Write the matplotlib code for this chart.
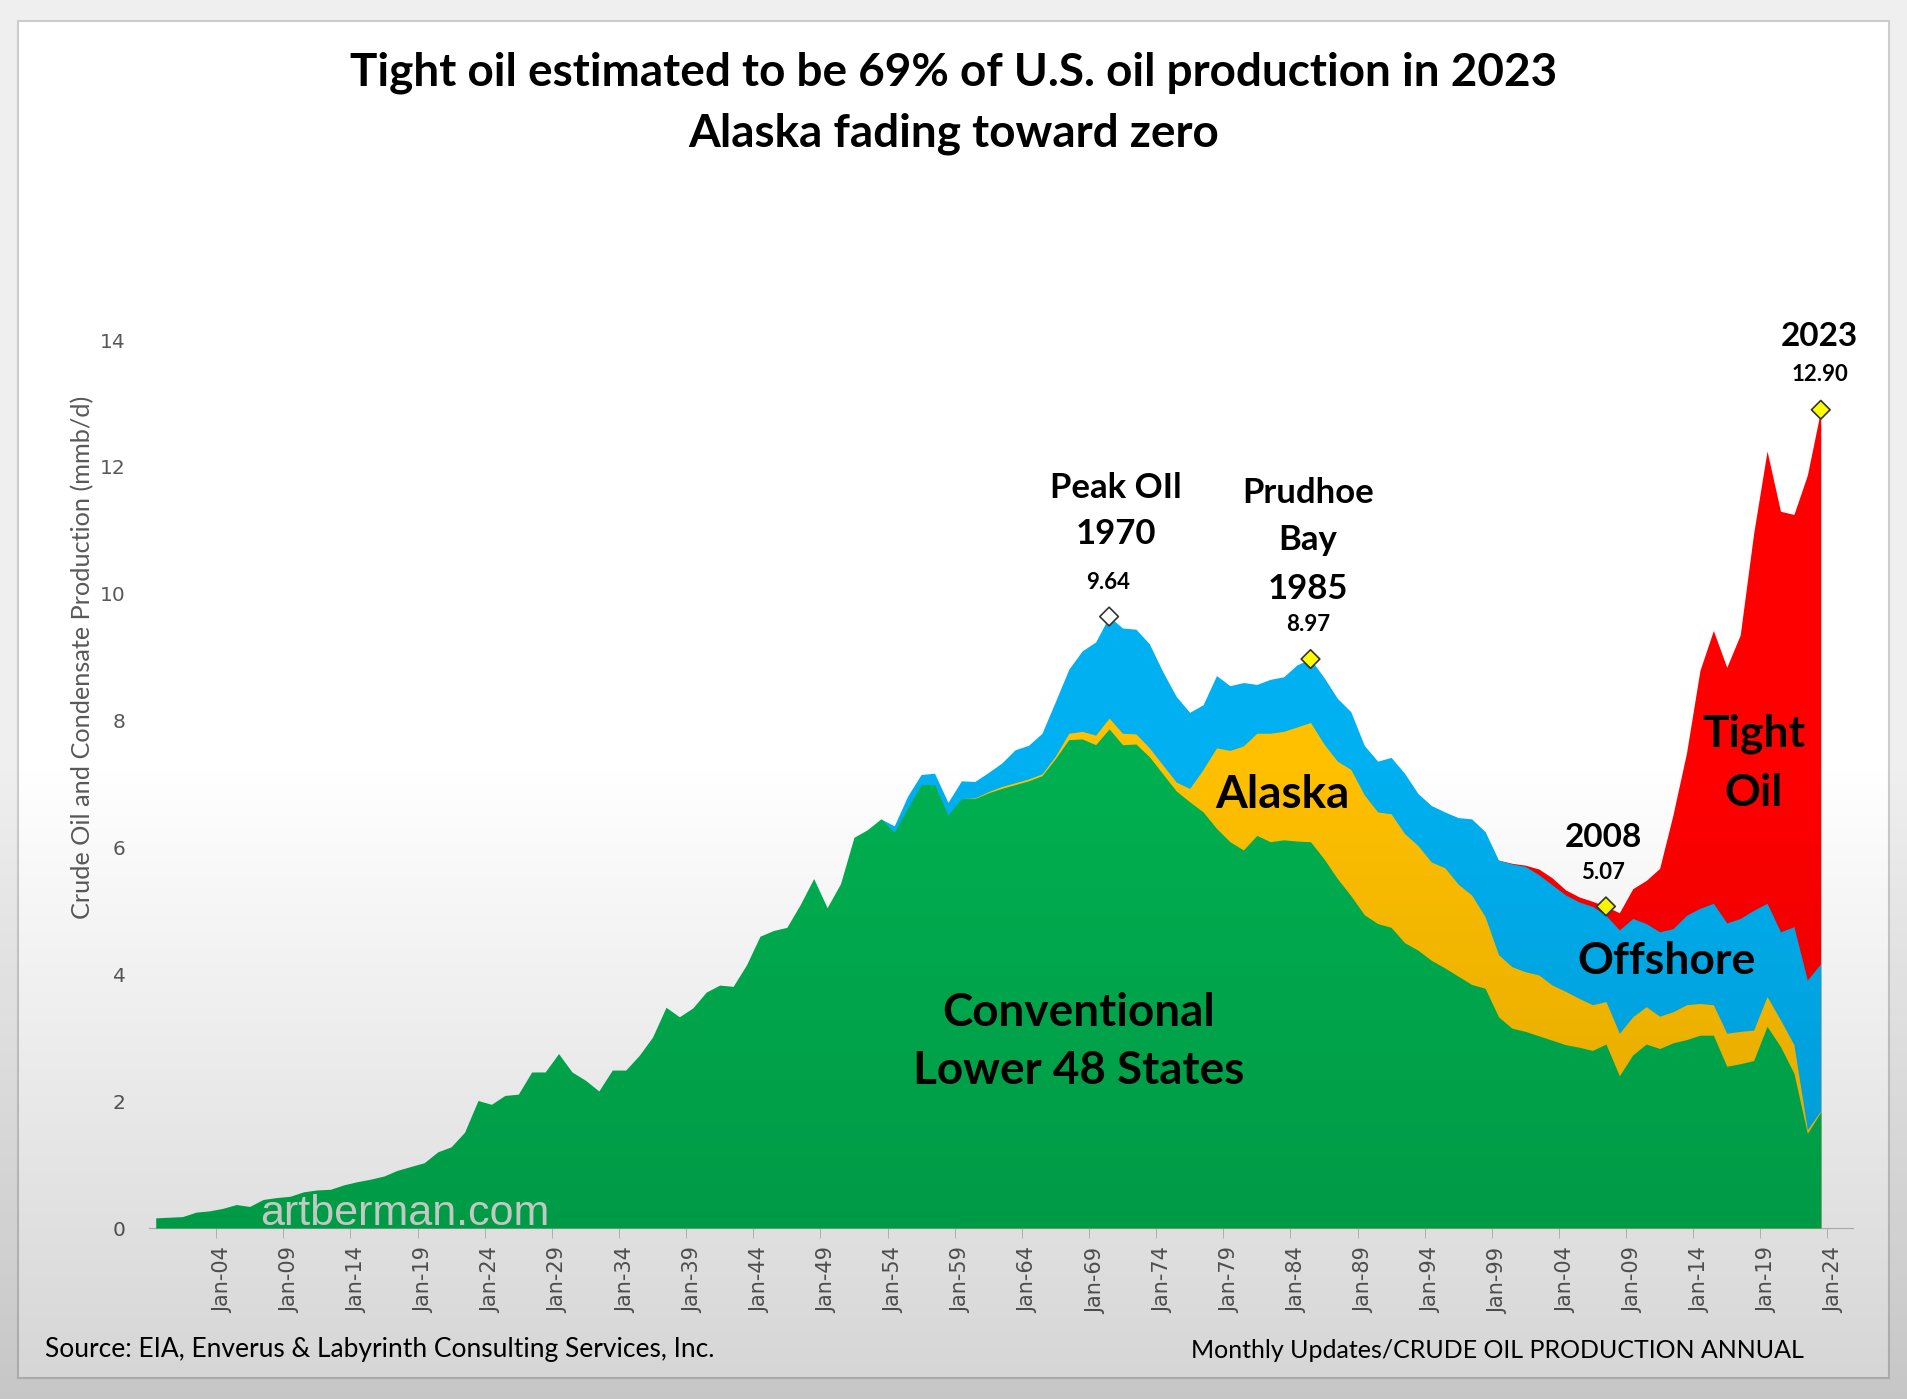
import numpy as np
import matplotlib.pyplot as plt
from matplotlib.patches import Rectangle

# === DATA (mmb/d, annual) ===
years = np.arange(1899, 2024)

conventional = [
    0.16, 0.17, 0.18, 0.25, 0.27, 0.31, 0.37, 0.34, 0.45, 0.48,
    0.50, 0.57, 0.60, 0.61, 0.68, 0.73, 0.77, 0.82, 0.91, 0.97,
    1.03, 1.20, 1.28, 1.51, 2.01, 1.95, 2.09, 2.11, 2.46, 2.46,
    2.75, 2.46, 2.33, 2.16, 2.49, 2.49, 2.72, 3.01, 3.48, 3.33,
    3.47, 3.72, 3.83, 3.81, 4.15, 4.60, 4.69, 4.74, 5.10, 5.51,
    5.05, 5.43, 6.16, 6.28, 6.45, 6.24, 6.62, 6.99, 6.99, 6.51,
    6.77, 6.77, 6.86, 6.93, 6.99, 7.05, 7.13, 7.40, 7.70, 7.71,
    7.62, 7.87, 7.62, 7.63, 7.43, 7.16, 6.89, 6.72, 6.56, 6.30,
    6.09, 5.96, 6.19, 6.09, 6.12, 6.10, 6.09, 5.82, 5.51, 5.24,
    4.94, 4.80, 4.74, 4.50, 4.38, 4.22, 4.10, 3.97, 3.84, 3.78,
    3.33, 3.15, 3.10, 3.03, 2.96, 2.89, 2.85, 2.80, 2.90, 2.40,
    2.73, 2.90, 2.83, 2.92, 2.97, 3.04, 3.04, 2.55, 2.59, 2.64,
    3.18, 2.86, 2.44, 1.49, 1.83,
]

# Alaska from 1960
alaska = [0.0] * 61 + [
    0.01, 0.02, 0.03, 0.03, 0.03, 0.03, 0.04, 0.10, 0.12, 0.15,
    0.17, 0.18, 0.16, 0.14, 0.14, 0.14, 0.21, 0.67, 1.27, 1.44,
    1.64, 1.61, 1.71, 1.71, 1.80, 1.88, 1.81, 1.85, 1.99, 1.89,
    1.76, 1.79, 1.72, 1.65, 1.55, 1.58, 1.45, 1.41, 1.13, 0.98,
    0.97, 0.94, 0.96, 0.87, 0.84, 0.77, 0.72, 0.67, 0.67, 0.60,
    0.59, 0.51, 0.49, 0.55, 0.50, 0.48, 0.52, 0.51, 0.48, 0.47,
    0.42, 0.45, 0.06, 0.02,
]

# Offshore from 1954
offshore = [0.0] * 55 + [
    0.10, 0.19, 0.16, 0.18, 0.20, 0.28, 0.26, 0.30, 0.37, 0.52,
    0.53, 0.64, 0.86, 1.01, 1.27, 1.47, 1.60, 1.66, 1.65, 1.64,
    1.47, 1.35, 1.20, 1.02, 1.14, 1.02, 1.00, 0.77, 0.85, 0.86,
    0.98, 1.00, 1.05, 0.99, 0.91, 0.78, 0.80, 0.89, 0.95, 0.82,
    0.89, 0.88, 1.05, 1.20, 1.34, 1.49, 1.62, 1.66, 1.58, 1.58,
    1.52, 1.52, 1.55, 1.36, 1.63, 1.55, 1.31, 1.33, 1.31, 1.41,
    1.50, 1.60, 1.74, 1.78, 1.89, 1.47, 1.39, 1.86, 2.36, 2.32,
]

# Tight oil from 2000
tight_oil = [0.0] * 101 + [
    0.01, 0.02, 0.09, 0.11, 0.08, 0.08, 0.08, 0.14, 0.27, 0.47,
    0.68, 1.00, 1.80, 2.56, 3.75, 4.30, 4.03, 4.47, 5.94, 7.13,
    6.63, 6.50, 7.96, 8.73,
]

marker_years = [1970, 1985, 2007, 2023]
marker_values = [9.64, 8.97, 5.07, 12.90]
marker_fill = ['white', '#FFFF00', '#FFFF00', '#FFFF00']

tick_years = np.arange(1904, 2025, 5)
tick_labels = [f"Jan-{y % 100:02d}" for y in tick_years]
y_ticks = np.arange(0, 15, 2)

colors = ['#00B050', '#FFC000', '#00B0F0', '#FF0000']

# === FIGURE ===
W, H = 1907, 1399
fig = plt.figure(figsize=(W / 100, H / 100), dpi=100, facecolor='#efefef')
fig.patches.append(Rectangle((18 / W, 1 - 1378 / H), 1871 / W, 1357 / H,
                             transform=fig.transFigure, facecolor='white',
                             edgecolor='#cccccc', lw=1.5, zorder=-5))

ax = fig.add_axes([149 / W, 1 - 1228 / H, (1853 - 149) / W, (1228 - 340) / H])
ax.patch.set_alpha(0)

# stacked areas: paint each cumulative layer from zero, top layer first,
# so neighbouring layers meet without seams
layers = [np.array(conventional), np.array(alaska), np.array(offshore), np.array(tight_oil)]
tops = np.cumsum(layers, axis=0)
for k in range(len(layers) - 1, -1, -1):
    present = np.convolve(layers[k] > 0, [1, 1, 1], mode='same') > 0
    ax.fill_between(years, 0, tops[k], where=present, color=colors[k],
                    linewidth=0, zorder=1 + (3 - k))

ax.set_xlim(1898.5, 2025.4)
ax.set_ylim(0, 14)

for s in ['top', 'right', 'left']:
    ax.spines[s].set_visible(False)
ax.spines['bottom'].set_color('#bfbfbf')

ax.set_xticks(tick_years)
ax.set_xticklabels(tick_labels, rotation=90, fontsize=15, color='#595959',
                   family='DejaVu Sans')
ax.set_xticks(tick_years - 0.5, minor=True)
ax.tick_params(axis='x', which='major', length=0, pad=14)
ax.tick_params(axis='x', which='minor', length=7, color='#bfbfbf')
ax.set_yticks(y_ticks)
ax.tick_params(axis='y', length=0, pad=17, labelsize=14.5, labelcolor='#595959')

# markers
ax.scatter(marker_years, marker_values, marker='D', s=90, c=marker_fill,
           edgecolors='#333333', linewidths=1.2, zorder=8, clip_on=False)

# === LABELS ===
bold = dict(family='Lato', weight='bold', color='black', ha='center', va='center', zorder=9)
ax.text(1970.5, 11.67, "Peak OIl", fontsize=25, **bold)
ax.text(1970.5, 10.94, "1970", fontsize=25, **bold)
ax.text(1969.9, 10.18, "9.64", fontsize=16, **bold)
ax.text(1984.8, 11.59, "Prudhoe", fontsize=25, **bold)
ax.text(1984.8, 10.85, "Bay", fontsize=25, **bold)
ax.text(1984.8, 10.08, "1985", fontsize=25, **bold)
ax.text(1984.8, 9.52, "8.97", fontsize=16, **bold)
ax.text(2006.8, 6.15, "2008", fontsize=24, **bold)
ax.text(2006.8, 5.61, "5.07", fontsize=16, **bold)
ax.text(2022.9, 14.05, "2023", fontsize=24, **bold)
ax.text(2022.9, 13.45, "12.90", fontsize=16, **bold)
ax.text(2018.0, 7.80, "Tight", fontsize=32, **bold)
ax.text(2018.0, 6.86, "Oil", fontsize=32, **bold)
ax.text(1982.9, 6.82, "Alaska", fontsize=33, **bold)
ax.text(2011.5, 4.21, "Offshore", fontsize=32, **bold)
ax.text(1967.7, 3.39, "Conventional", fontsize=33, **bold)
ax.text(1967.7, 2.47, "Lower 48 States", fontsize=33, **bold)
ax.text(1906.8, 0.05, "artberman.com", fontsize=31, family='Liberation Sans',
        color='#dbe4db', ha='left', va='baseline', zorder=9)

fig.text(0.5, 1 - 73 / H, "Tight oil estimated to be 69% of U.S. oil production in 2023",
         fontsize=33, family='Lato', weight='bold', ha='center', va='center')
fig.text(0.5, 1 - 134 / H, "Alaska fading toward zero",
         fontsize=33, family='Lato', weight='bold', ha='center', va='center')
fig.text(83 / W, 1 - 657 / H, "Crude Oil and Condensate Production (mmb/d)",
         rotation=90, fontsize=18.2, family='Lato', color='#595959',
         ha='center', va='center')
fig.text(45 / W, 1 - 1350 / H, "Source: EIA, Enverus & Labyrinth Consulting Services, Inc.",
         fontsize=19, family='Lato', ha='left', va='center')
fig.text(1804 / W, 1 - 1350 / H, "Monthly Updates/CRUDE OIL PRODUCTION ANNUAL",
         fontsize=18, family='Lato', ha='right', va='center')

# grey fade toward the bottom, like the source slide
ov = fig.add_axes([0, 0, 1, 1], zorder=10)
ov.axis('off')
f = np.linspace(0, 1, 400)
alpha = np.clip((f - 0.54) / 0.46, 0, 1) * 0.17
grad = np.zeros((400, 1, 4))
grad[:, 0, 3] = alpha
ov.imshow(grad, extent=[0, 1, 0, 1], aspect='auto', interpolation='bilinear')

fig.savefig("out.png", dpi=100, facecolor=fig.get_facecolor())
